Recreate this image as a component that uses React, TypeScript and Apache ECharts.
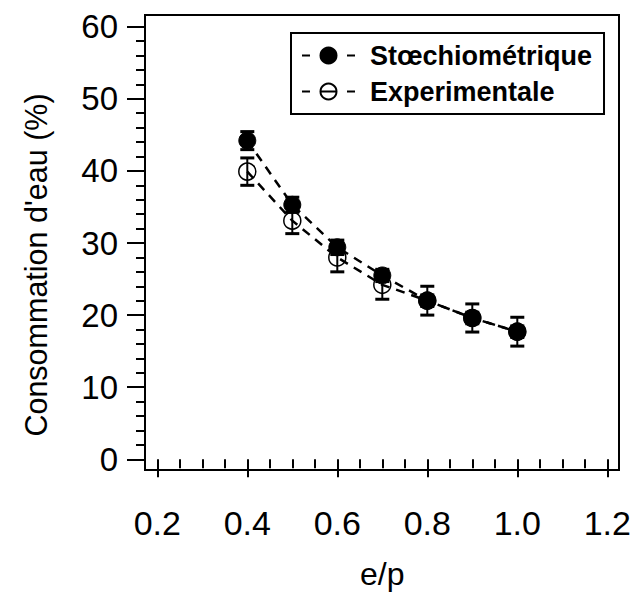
import React, { useEffect, useRef } from "react";
import * as echarts from "echarts";

const xValues = [0.4, 0.5, 0.6, 0.7, 0.8, 0.9, 1.0];
const stoich = [44.2, 35.3, 29.4, 25.5, 22.0, 19.6, 17.7];
const stoichErr = [1.25, 1.05, 1.0, 0.85, 0.8, 0.8, 0.8];
const expe = [39.9, 33.1, 28.0, 24.2, 22.0, 19.6, 17.7];
const expeErr = [1.9, 1.8, 2.0, 2.0, 2.0, 1.95, 2.0];
const seriesNames = ["Stœchiométrique", "Experimentale"];

const FONT = "'Liberation Sans', Arial, Helvetica, sans-serif";

function errData(vals: number[], errs: number[]) {
  return xValues.map((x, i) => [x, vals[i] - errs[i], vals[i] + errs[i]]);
}

function renderErr(params: any, api: any) {
  const x = api.value(0);
  const p1 = api.coord([x, api.value(1)]);
  const p2 = api.coord([x, api.value(2)]);
  const half = 7;
  return {
    type: "group",
    children: [
      { type: "line", shape: { x1: p1[0], y1: p1[1], x2: p2[0], y2: p2[1] }, style: { stroke: "#000", lineWidth: 2 } },
      { type: "line", shape: { x1: p1[0] - half, y1: p1[1], x2: p1[0] + half, y2: p1[1] }, style: { stroke: "#000", lineWidth: 3 } },
      { type: "line", shape: { x1: p2[0] - half, y1: p2[1], x2: p2[0] + half, y2: p2[1] }, style: { stroke: "#000", lineWidth: 3 } },
    ],
  };
}

export default function App() {
  const ref = useRef<HTMLDivElement>(null);
  useEffect(() => {
    if (!ref.current) return;
    const chart = echarts.init(ref.current, undefined, { renderer: "svg" });
    const option: any = {
      animation: false,
      backgroundColor: "#fff",
      grid: { left: 157.3, right: 26.7, top: 26.7, bottom: 137.7 },
      graphic: [
        {
          type: "rect",
          shape: { x: 145, y: 15, width: 474, height: 455 },
          style: { fill: "none", stroke: "#000", lineWidth: 2 },
          z: 0,
        },
      ],
      xAxis: {
        type: "value",
        min: 0.2,
        max: 1.2,
        interval: 0.2,
        offset: 10.7,
        axisLine: { show: false },
        splitLine: { show: false },
        axisTick: { show: true, length: 18, lineStyle: { color: "#000", width: 2 } },
        minorTick: { show: true, splitNumber: 4, length: 9, lineStyle: { color: "#000", width: 2 } },
        axisLabel: {
          margin: 36,
          color: "#000",
          fontSize: 34,
          fontFamily: FONT,
          formatter: (v: number) => v.toFixed(1),
        },
        name: "e/p",
        nameLocation: "middle",
        nameGap: 88,
        nameTextStyle: { color: "#000", fontSize: 32, fontFamily: FONT },
      },
      yAxis: {
        type: "value",
        min: 0,
        max: 60,
        interval: 10,
        offset: 12.3,
        axisLine: { show: false },
        splitLine: { show: false },
        axisTick: { show: true, length: 18, lineStyle: { color: "#000", width: 2 } },
        minorTick: { show: true, splitNumber: 5, length: 9, lineStyle: { color: "#000", width: 2 } },
        axisLabel: { margin: 27, color: "#000", fontSize: 33, fontFamily: FONT },
        name: "Consommation d'eau (%)",
        nameLocation: "middle",
        nameGap: 94,
        nameTextStyle: { color: "#000", fontSize: 30.5, fontFamily: FONT, padding: [0, 44, 0, 0] },
      },
      legend: {
        orient: "vertical",
        left: 291,
        top: 33,
        padding: [9, 12, 9, 10],
        itemWidth: 53,
        itemHeight: 20,
        itemGap: 9,
        borderColor: "#000",
        borderWidth: 2,
        borderRadius: 0,
        textStyle: { color: "#000", fontSize: 27, fontWeight: "bold", fontFamily: FONT, padding: [0, 0, 0, 10] },
        data: [
          { name: seriesNames[0], lineStyle: { type: [8, 37, 8, 10] } },
          { name: seriesNames[1], lineStyle: { type: [8, 11, 15, 11, 8, 10] } },
        ],
      },
      series: [
        {
          name: "errExpe",
          type: "custom",
          renderItem: renderErr,
          encode: { x: 0, y: [1, 2] },
          data: errData(expe, expeErr),
          z: 1,
        },
        {
          name: "errStoich",
          type: "custom",
          renderItem: renderErr,
          encode: { x: 0, y: [1, 2] },
          data: errData(stoich, stoichErr),
          z: 1,
        },
        {
          name: seriesNames[1],
          type: "line",
          data: xValues.map((x, i) => [x, expe[i]]),
          symbol: "circle",
          symbolSize: 17,
          itemStyle: { color: "rgba(0,0,0,0)", borderColor: "#000", borderWidth: 1.5 },
          lineStyle: { color: "#000", width: 2.5, type: [9, 7] },
          z: 2,
        },
        {
          name: seriesNames[0],
          type: "line",
          data: xValues.map((x, i) => [x, stoich[i]]),
          symbol: "circle",
          symbolSize: 17,
          itemStyle: { color: "#000", borderColor: "#000", borderWidth: 1 },
          lineStyle: { color: "#000", width: 2.5, type: [9, 7] },
          z: 3,
        },
      ],
    };
    chart.setOption(option);
    return () => chart.dispose();
  }, []);
  return (
    <div
      ref={ref}
      style={{ position: "fixed", left: 0, top: 0, width: 634, height: 597, background: "#fff" }}
    />
  );
}
